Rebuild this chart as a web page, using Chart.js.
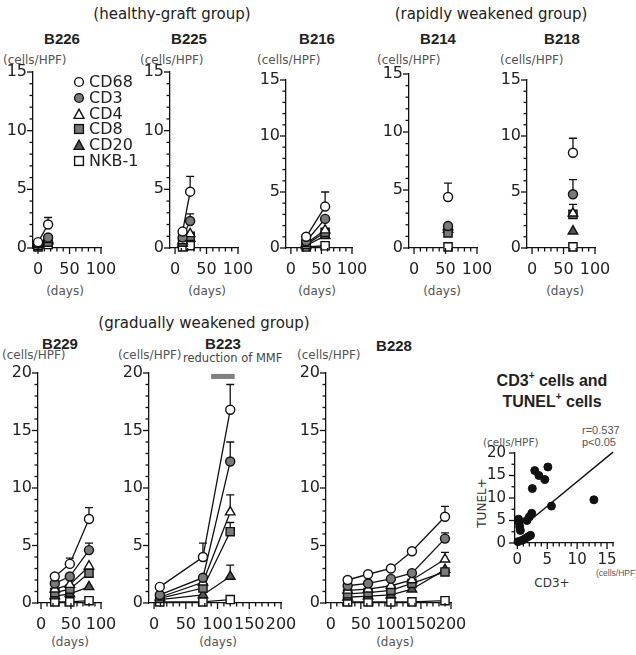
<!DOCTYPE html>
<html>
<head>
<meta charset="UTF-8">
<title>Infiltrating cells per HPF</title>
<script src="https://cdn.jsdelivr.net/npm/chart.js"></script>
<style>
  html, body { margin: 0; background: #fff; }
  #fig { position: relative; width: 636px; height: 655px; overflow: hidden;
         font-family: "DejaVu Sans", sans-serif; color: #222; }
  #fig canvas { position: absolute; }
  .t { position: absolute; white-space: nowrap; line-height: 1; transform: translate(-50%, -50%); }
  .l { position: absolute; white-space: nowrap; line-height: 1; transform: translateY(-50%); }
  .grp { font-size: 15px; }
  .ttl { font-family: "Liberation Sans", Arial, sans-serif; font-weight: bold; font-size: 15px; }
  .unit { font-size: 12px; color: #555; }
  .sm { font-size: 10.5px; color: #555; }
  .leg { font-size: 16px; }
  .leg svg { position: absolute; left: -16px; top: 50%; margin-top: -6px; }
</style>
</head>
<body>
<div id="fig">
  <div class="t grp" style="left:172px;top:14px">(healthy-graft group)</div>
  <div class="t grp" style="left:491px;top:14px">(rapidly weakened group)</div>
  <div class="t grp" style="left:204px;top:323px">(gradually weakened group)</div>

  <div class="t ttl" style="left:62px;top:38px">B226</div>
  <div class="t ttl" style="left:189px;top:38px">B225</div>
  <div class="t ttl" style="left:317px;top:38px">B216</div>
  <div class="t ttl" style="left:438px;top:38px">B214</div>
  <div class="t ttl" style="left:562px;top:38px">B218</div>
  <div class="t ttl" style="left:60px;top:343px">B229</div>
  <div class="t ttl" style="left:223px;top:343px">B223</div>
  <div class="t ttl" style="left:394px;top:345px">B228</div>

  <div class="l unit" style="left:3px;top:60px">(cells/HPF)</div>
  <div class="l unit" style="left:140px;top:60px">(cells/HPF)</div>
  <div class="l unit" style="left:257px;top:60px">(cells/HPF)</div>
  <div class="l unit" style="left:377px;top:60px">(cells/HPF)</div>
  <div class="l unit" style="left:500px;top:60px">(cells/HPF)</div>
  <div class="l unit" style="left:2px;top:355px">(cells/HPF)</div>
  <div class="l unit" style="left:118px;top:355px">(cells/HPF)</div>
  <div class="l unit" style="left:297px;top:355px">(cells/HPF)</div>

  <div class="t unit" style="left:65px;top:291px">(days)</div>
  <div class="t unit" style="left:207px;top:291px">(days)</div>
  <div class="t unit" style="left:317px;top:291px">(days)</div>
  <div class="t unit" style="left:442px;top:291px">(days)</div>
  <div class="t unit" style="left:565px;top:291px">(days)</div>
  <div class="t unit" style="left:70px;top:642px">(days)</div>
  <div class="t unit" style="left:218px;top:642px">(days)</div>
  <div class="t unit" style="left:395px;top:642px">(days)</div>

  <div class="l" style="left:183px;top:359px;font-size:11.5px;color:#444">reduction of MMF</div>

  <div class="t ttl" style="left:552px;top:380px;font-size:16px">CD3<sup style="font-size:10px">+</sup> cells and</div>
  <div class="t ttl" style="left:552px;top:401px;font-size:16px">TUNEL<sup style="font-size:10px">+</sup> cells</div>
  <div class="l" style="left:582px;top:430px;font-family:'Liberation Sans';font-size:11px;color:#555">r=0.537</div>
  <div class="l" style="left:582px;top:442px;font-family:'Liberation Sans';font-size:11px;color:#555">p&lt;0.05</div>
  <div class="l sm" style="left:483px;top:442px">(cells/HPF)</div>
  <div class="l" style="left:596px;top:573px;font-family:'Liberation Sans';font-size:8.5px;color:#555">(cells/HPF)</div>
  <div class="t" style="left:552px;top:583px;font-size:12px;color:#333">CD3+</div>
  <div class="t" style="left:482px;top:503px;font-size:12px;color:#333;transform:translate(-50%,-50%) rotate(-90deg)">TUNEL+</div>

  <div id="legend"></div>
</div>

<script>
// series shown in every time-course panel
const seriesNames = ['CD68', 'CD3', 'CD4', 'CD8', 'CD20', 'NKB-1'];

// healthy-graft group
const b226Days = [0, 16];
const b226Values = [[0.5, 2.0], [0.4, 0.9], [0.3, 0.7], [0.2, 0.5], [0.3, 0.6], [0.1, 0.3]];
const b226ErrTop = [[null, 2.6], [], [], [], [], []];

const b225Days = [12, 24];
const b225Values = [[1.4, 4.8], [0.9, 2.3], [0.6, 1.2], [0.5, 1.0], [0.4, 0.8], [0.1, 0.2]];
const b225ErrTop = [[null, 6.1], [null, 2.9], [], [], [], []];

const b216Days = [25, 56];
const b216Values = [[1.0, 3.7], [0.6, 2.6], [0.4, 1.6], [0.3, 1.4], [0.2, 1.1], [0.1, 0.2]];
const b216ErrTop = [[null, 5.0], [], [], [], [], []];

// rapidly weakened group
const b214Days = [54];
const b214Values = [[4.4], [1.9], [1.8], [1.3], [1.6], [0.1]];
const b214ErrTop = [[5.6], [], [], [], [], []];

const b218Days = [65];
const b218Values = [[8.5], [4.8], [3.1], [3.0], [1.5], [0.1]];
const b218ErrTop = [[9.8], [6.1], [3.9], [], [], []];

// gradually weakened group
const b229Days = [23, 48, 80];
const b229Values = [[2.3, 3.4, 7.3], [1.7, 2.3, 4.6], [1.2, 1.6, 3.2], [0.9, 1.2, 2.6], [0.6, 0.8, 1.4], [0.1, 0.1, 0.2]];
const b229ErrTop = [[null, 3.9, 8.3], [null, null, 5.2], [], [], [], []];

const b223Days = [9, 77, 120];
const b223Values = [[1.4, 4.0, 16.8], [0.7, 2.2, 12.3], [0.5, 1.8, 7.9], [0.4, 1.3, 6.2], [0.3, 0.7, 2.3], [0.1, 0.1, 0.3]];
const b223ErrTop = [[null, 5.2, 19.0], [null, null, 14.0], [null, null, 9.4], [null, null, 7.0], [null, null, 3.3], []];
const mmfDays = [90, 127];
const mmfLevel = 19.7;

const b228Days = [28, 62, 100, 135, 190];
const b228Values = [
  [2.0, 2.5, 3.0, 4.5, 7.5],
  [1.5, 1.7, 2.1, 2.6, 5.6],
  [1.1, 1.2, 1.5, 2.0, 3.8],
  [0.8, 0.9, 1.1, 1.7, 2.7],
  [0.5, 0.6, 0.7, 1.2, 2.9],
  [0.1, 0.1, 0.1, 0.1, 0.2]
];
const b228ErrTop = [[null, null, null, null, 8.4], [null, null, null, null, 6.1], [null, null, null, null, 4.4], [], [], []];

// correlation panel
const scatterCD3 = [2.9, 3.6, 5.1, 4.6, 2.5, 5.7, 12.8, 2.4, 2.0, 1.6, 0.2, 0.3, 0.4, 0.5, 0.1, 0.8, 1.3, 1.8, 2.2];
const scatterTUNEL = [16.1, 15.0, 16.9, 14.1, 12.1, 8.2, 9.6, 6.6, 5.8, 5.0, 5.3, 4.5, 3.6, 2.8, 0.3, 0.6, 1.0, 1.4, 1.7];
const fitX = [2.2, 16];
const fitY = [5.1, 20.2];

// tick labels
const xLabels100 = [0, 50, 100];
const xLabels200 = [0, 50, 100, 150, 200];
const yLabels15 = [0, 5, 10, 15];
const yLabels20 = [0, 5, 10, 15, 20];
const scatterXLabels = [0, 5, 10, 15];

const markers = [
  { style: 'circle', r: 4.5, fill: '#ffffff' },
  { style: 'circle', r: 4.5, fill: '#7a7a7a' },
  { style: 'triangle', r: 5.5, fill: '#ffffff' },
  { style: 'rect', r: 5.8, fill: '#7a7a7a' },
  { style: 'triangle', r: 5.5, fill: '#555555' },
  { style: 'rect', r: 5.8, fill: '#ffffff' }
];

const fig = document.getElementById('fig');
const PAD_TOP = 10, PAD_RIGHT = 24;

const errorBars = {
  id: 'errorBars',
  beforeDatasetsDraw(chart) {
    const ctx = chart.ctx, ys = chart.scales.y;
    ctx.save();
    ctx.strokeStyle = '#111';
    ctx.lineWidth = 1.3;
    chart.data.datasets.forEach((ds, i) => {
      if (!ds.errTop) return;
      const meta = chart.getDatasetMeta(i);
      ds.errTop.forEach((top, j) => {
        if (top == null || !meta.data[j]) return;
        const p = meta.data[j], yt = ys.getPixelForValue(top);
        ctx.beginPath();
        ctx.moveTo(p.x, p.y); ctx.lineTo(p.x, yt);
        ctx.moveTo(p.x - 4, yt); ctx.lineTo(p.x + 4, yt);
        ctx.stroke();
      });
    });
    ctx.restore();
  }
};

// Prism-style ticks: long at labelled values, short in between
const axisTicks = {
  id: 'axisTicks',
  afterDraw(chart) {
    const ctx = chart.ctx, a = chart.chartArea;
    ctx.save();
    ctx.strokeStyle = '#111';
    ctx.lineWidth = 1.3;
    ['x', 'y'].forEach(id => {
      const s = chart.scales[id];
      s.ticks.forEach(t => {
        const len = t.label !== '' ? 6 : 3.5;
        const p = s.getPixelForValue(t.value);
        ctx.beginPath();
        if (id === 'x') { ctx.moveTo(p, a.bottom); ctx.lineTo(p, a.bottom + len); }
        else { ctx.moveTo(a.left, p); ctx.lineTo(a.left - len, p); }
        ctx.stroke();
      });
    });
    ctx.restore();
  }
};

function axis(pos, min, max, step, labels, size, fontSize, pad) {
  return {
    type: 'linear', position: pos, min: min, max: max,
    border: { display: true, color: '#111', width: 1.3 },
    grid: { display: true, drawOnChartArea: false, tickLength: 5, tickColor: 'rgba(0,0,0,0)' },
    ticks: {
      autoSkip: false, maxRotation: 0, minRotation: 0, padding: pad, color: '#222',
      font: { family: 'DejaVu Sans', size: fontSize },
      callback: v => labels.includes(v) ? String(v) : ''
    },
    afterBuildTicks: s => {
      const t = [];
      for (let v = 0; v <= max + 1e-6; v += step) t.push({ value: Math.round(v * 100) / 100 });
      s.ticks = t;
    },
    afterFit: s => {
      if (pos === 'left') { s.width = size; s.paddingTop = 0; s.paddingBottom = 0; }
      else { s.height = size; s.paddingLeft = 0; s.paddingRight = 0; }
    }
  };
}

function makeChart(box, xAxis, yAxis, datasets) {
  const cv = document.createElement('canvas');
  const yW = box.yW || 32, xH = box.xH || 36;
  cv.width = yW + box.w + PAD_RIGHT;
  cv.height = PAD_TOP + box.h + xH;
  cv.style.left = (box.axisX - yW) + 'px';
  cv.style.top = (box.top - PAD_TOP) + 'px';
  fig.insertBefore(cv, document.getElementById('legend'));
  return new Chart(cv, {
    type: 'scatter',
    data: { datasets: datasets },
    options: {
      responsive: false, animation: false, devicePixelRatio: 1,
      layout: { padding: { top: PAD_TOP, right: PAD_RIGHT, left: 0, bottom: 0 } },
      plugins: { legend: { display: false }, tooltip: { enabled: false } },
      scales: { x: xAxis(xH), y: yAxis(yW) }
    },
    plugins: [errorBars, axisTicks]
  });
}

function seriesSets(days, values, errTop) {
  return seriesNames.map((name, i) => ({
    label: name,
    data: days.map((d, j) => ({ x: d, y: values[i][j] })),
    errTop: errTop[i],
    showLine: days.length > 1,
    borderColor: '#111', borderWidth: 1.3,
    pointStyle: markers[i].style, pointRadius: markers[i].r,
    pointBackgroundColor: markers[i].fill, pointBorderColor: '#111', pointBorderWidth: 1.4,
    clip: false
  }));
}

function timePanel(box, days, values, errTop, xMax, xLabels, yMax, yLabels, extra) {
  const sets = seriesSets(days, values, errTop).concat(extra || []);
  return makeChart(box,
    h => axis('bottom', box.xMin, xMax, 10, xLabels, h, 16, 7),
    w => axis('left', 0, yMax, 1, yLabels, w, 16, 1),
    sets);
}

// top row
timePanel({ axisX: 33, top: 72, w: 68, h: 176, xMin: -8 }, b226Days, b226Values, b226ErrTop, 100, xLabels100, 15, yLabels15);
timePanel({ axisX: 170, top: 72, w: 68, h: 176, xMin: -8 }, b225Days, b225Values, b225ErrTop, 100, xLabels100, 15, yLabels15);
timePanel({ axisX: 286, top: 80, w: 66, h: 168, xMin: -8 }, b216Days, b216Values, b216ErrTop, 100, xLabels100, 15, yLabels15);
timePanel({ axisX: 409, top: 74, w: 68, h: 174, xMin: -8 }, b214Days, b214Values, b214ErrTop, 100, xLabels100, 15, yLabels15);
timePanel({ axisX: 527, top: 80, w: 68, h: 168, xMin: -8 }, b218Days, b218Values, b218ErrTop, 100, xLabels100, 15, yLabels15);

// bottom row
timePanel({ axisX: 38, top: 373, w: 63, h: 230, xMin: -5 }, b229Days, b229Values, b229ErrTop, 100, xLabels100, 20, yLabels20);
timePanel({ axisX: 149, top: 373, w: 132, h: 230, xMin: -8 }, b223Days, b223Values, b223ErrTop, 200, xLabels200, 20, yLabels20, [{
  label: 'reduction of MMF',
  data: mmfDays.map(d => ({ x: d, y: mmfLevel })),
  showLine: true, borderColor: '#808080', borderWidth: 5, pointRadius: 0, clip: false, borderCapStyle: 'butt'
}]);
timePanel({ axisX: 326, top: 373, w: 125, h: 230, xMin: -8 }, b228Days, b228Values, b228ErrTop, 200, xLabels200, 20, yLabels20);

// CD3+ vs TUNEL+ correlation
makeChart({ axisX: 515, top: 453, w: 98, h: 90, yW: 34, xH: 28 },
  h => axis('bottom', -0.4, 16, 1, scatterXLabels, h, 15, 3),
  w => axis('left', 0, 20, 2.5, yLabels20, w, 15, 4),
  [{
    label: 'CD3+ vs TUNEL+',
    data: scatterCD3.map((x, i) => ({ x: x, y: scatterTUNEL[i] })),
    pointRadius: 4, pointBackgroundColor: '#111', pointBorderColor: '#111', clip: false
  }, {
    label: 'regression',
    data: fitX.map((x, i) => ({ x: x, y: fitY[i] })),
    showLine: true, borderColor: '#111', borderWidth: 1.4, pointRadius: 0, clip: false
  }]);

// legend (inside B226)
const legendRows = [82, 98, 114, 129, 145, 161];
const legend = document.getElementById('legend');
const svgShape = (m) => {
  const s = 'stroke="#111" stroke-width="1.4" fill="' + m.fill + '"';
  if (m.style === 'circle') return '<circle cx="6" cy="6" r="4.4" ' + s + '/>';
  if (m.style === 'triangle') return '<polygon points="6,1.2 11,10.4 1,10.4" ' + s + '/>';
  return '<rect x="1.6" y="1.6" width="8.8" height="8.8" ' + s + '/>';
};
seriesNames.forEach((name, i) => {
  const d = document.createElement('div');
  d.className = 'l leg';
  d.style.left = '89px';
  d.style.top = legendRows[i] + 'px';
  d.innerHTML = '<svg width="12" height="12">' + svgShape(markers[i]) + '</svg>' + name;
  legend.appendChild(d);
});
</script>
</body>
</html>
